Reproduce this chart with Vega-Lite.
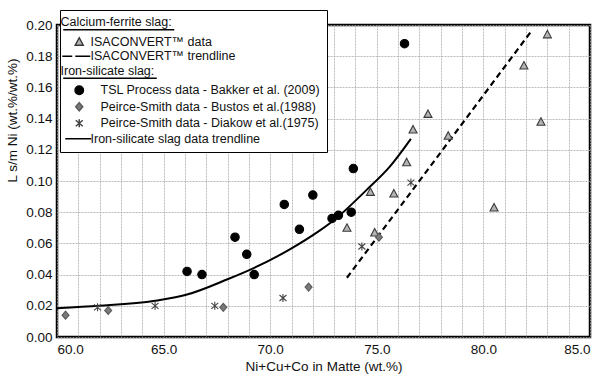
{
  "$schema": "https://vega.github.io/schema/vega-lite/v6.json",
  "width": 533,
  "height": 312,
  "autosize": {"type": "none"},
  "padding": {"left": 57, "top": 25, "right": 10, "bottom": 41},
  "background": "white",
  "config": {
    "font": "Liberation Sans",
    "view": {"stroke": "black", "strokeWidth": 2.5},
    "axis": {
      "domain": false,
      "ticks": false,
      "grid": true,
      "gridColor": "#a8a8a8",
      "gridDash": [2, 1],
      "gridWidth": 0.8,
      "labelFont": "Liberation Sans",
      "labelFontSize": 13.5,
      "labelColor": "#111",
      "titleFont": "Liberation Sans",
      "titleFontSize": 13.5,
      "titleFontWeight": "normal",
      "titleColor": "#111"
    }
  },
  "data": {
    "values": [
      {"series": "ISACONVERT™ data", "x": 73.6, "y": 0.070},
      {"series": "ISACONVERT™ data", "x": 74.7, "y": 0.093},
      {"series": "ISACONVERT™ data", "x": 74.9, "y": 0.067},
      {"series": "ISACONVERT™ data", "x": 75.8, "y": 0.092},
      {"series": "ISACONVERT™ data", "x": 76.4, "y": 0.112},
      {"series": "ISACONVERT™ data", "x": 76.7, "y": 0.133},
      {"series": "ISACONVERT™ data", "x": 77.4, "y": 0.143},
      {"series": "ISACONVERT™ data", "x": 78.35, "y": 0.129},
      {"series": "ISACONVERT™ data", "x": 80.5, "y": 0.083},
      {"series": "ISACONVERT™ data", "x": 81.9, "y": 0.174},
      {"series": "ISACONVERT™ data", "x": 82.7, "y": 0.138},
      {"series": "ISACONVERT™ data", "x": 83.0, "y": 0.194},
      {"series": "TSL Process data - Bakker et al. (2009)", "x": 66.1, "y": 0.042},
      {"series": "TSL Process data - Bakker et al. (2009)", "x": 66.8, "y": 0.040},
      {"series": "TSL Process data - Bakker et al. (2009)", "x": 68.35, "y": 0.064},
      {"series": "TSL Process data - Bakker et al. (2009)", "x": 68.9, "y": 0.053},
      {"series": "TSL Process data - Bakker et al. (2009)", "x": 69.25, "y": 0.040},
      {"series": "TSL Process data - Bakker et al. (2009)", "x": 70.66, "y": 0.085},
      {"series": "TSL Process data - Bakker et al. (2009)", "x": 71.37, "y": 0.069},
      {"series": "TSL Process data - Bakker et al. (2009)", "x": 72.0, "y": 0.091},
      {"series": "TSL Process data - Bakker et al. (2009)", "x": 72.9, "y": 0.076},
      {"series": "TSL Process data - Bakker et al. (2009)", "x": 73.2, "y": 0.078},
      {"series": "TSL Process data - Bakker et al. (2009)", "x": 73.8, "y": 0.080},
      {"series": "TSL Process data - Bakker et al. (2009)", "x": 73.9, "y": 0.108},
      {"series": "TSL Process data - Bakker et al. (2009)", "x": 76.3, "y": 0.188},
      {"series": "Peirce-Smith data - Bustos et al.(1988)", "x": 60.4, "y": 0.014},
      {"series": "Peirce-Smith data - Bustos et al.(1988)", "x": 62.4, "y": 0.017},
      {"series": "Peirce-Smith data - Bustos et al.(1988)", "x": 67.8, "y": 0.019},
      {"series": "Peirce-Smith data - Bustos et al.(1988)", "x": 71.8, "y": 0.032},
      {"series": "Peirce-Smith data - Bustos et al.(1988)", "x": 75.1, "y": 0.064},
      {"series": "Peirce-Smith data - Diakow et al.(1975)", "x": 61.9, "y": 0.019},
      {"series": "Peirce-Smith data - Diakow et al.(1975)", "x": 64.6, "y": 0.020},
      {"series": "Peirce-Smith data - Diakow et al.(1975)", "x": 67.4, "y": 0.020},
      {"series": "Peirce-Smith data - Diakow et al.(1975)", "x": 70.6, "y": 0.025},
      {"series": "Peirce-Smith data - Diakow et al.(1975)", "x": 74.3, "y": 0.058},
      {"series": "Peirce-Smith data - Diakow et al.(1975)", "x": 76.6, "y": 0.099},
      {"series": "ISACONVERT™ trendline", "x": 73.6, "y": 0.038},
      {"series": "ISACONVERT™ trendline", "x": 82.3, "y": 0.197},
      {"series": "Iron-silicate slag data trendline", "x": 60.0, "y": 0.0185},
      {"series": "Iron-silicate slag data trendline", "x": 62.0, "y": 0.0200},
      {"series": "Iron-silicate slag data trendline", "x": 64.6, "y": 0.0232},
      {"series": "Iron-silicate slag data trendline", "x": 66.1, "y": 0.0272},
      {"series": "Iron-silicate slag data trendline", "x": 68.0, "y": 0.0370},
      {"series": "Iron-silicate slag data trendline", "x": 69.2, "y": 0.0440},
      {"series": "Iron-silicate slag data trendline", "x": 70.9, "y": 0.0560},
      {"series": "Iron-silicate slag data trendline", "x": 72.3, "y": 0.0680},
      {"series": "Iron-silicate slag data trendline", "x": 73.0, "y": 0.0750},
      {"series": "Iron-silicate slag data trendline", "x": 74.5, "y": 0.0940},
      {"series": "Iron-silicate slag data trendline", "x": 75.6, "y": 0.1090},
      {"series": "Iron-silicate slag data trendline", "x": 76.6, "y": 0.1270}
    ]
  },
  "encoding": {
    "x": {
      "field": "x", "type": "quantitative",
      "scale": {"domain": [60, 85], "nice": false, "zero": false},
      "axis": {
        "title": "Ni+Cu+Co in Matte (wt.%)",
        "values": [60,61,62,63,64,65,66,67,68,69,70,71,72,73,74,75,76,77,78,79,80,81,82,83,84,85],
        "labelExpr": "datum.value % 5 == 0 ? format(datum.value, '.1f') : ''",
        "labelFlush": true,
        "labelPadding": 5,
        "titlePadding": 4
      }
    },
    "y": {
      "field": "y", "type": "quantitative",
      "scale": {"domain": [0, 0.2], "nice": false},
      "axis": {
        "title": "L s/m Ni (wt.%/wt.%)",
        "values": [0, 0.02, 0.04, 0.06, 0.08, 0.1, 0.12, 0.14, 0.16, 0.18, 0.2],
        "format": ".2f",
        "labelPadding": 5,
        "titlePadding": 6,
        "titleY": 95
      }
    }
  },
  "layer": [
    {
      "transform": [{"filter": "datum.series == 'ISACONVERT™ trendline'"}],
      "mark": {"type": "line", "stroke": "black", "strokeWidth": 2.2, "strokeDash": [6, 4]},
      "encoding": {}
    },
    {
      "transform": [{"filter": "datum.series == 'Iron-silicate slag data trendline'"}],
      "mark": {"type": "line", "stroke": "black", "strokeWidth": 2, "interpolate": "monotone"},
      "encoding": {}
    },
    {
      "transform": [{"filter": "indexof(datum.series, 'trendline') < 0"}],
      "mark": {"type": "point", "size": 100, "strokeWidth": 1.1, "opacity": 1},
      "encoding": {
        "shape": {
          "field": "series", "type": "nominal",
          "scale": {
            "domain": ["Calcium-ferrite slag:", "ISACONVERT™ data", "ISACONVERT™ trendline", "Iron-silicate slag:", "TSL Process data - Bakker et al. (2009)", "Peirce-Smith data - Bustos et al.(1988)", "Peirce-Smith data - Diakow et al.(1975)", "Iron-silicate slag data trendline"],
            "range": ["M-3.2,1.5H19.0", "M0,-0.8L0.8,0.7H-0.8Z", "M-3.4,0H-1.4M-0.8,0H2.2", "M-3.2,1.5H15.5", "M0.84,0C0.84,0.464 0.464,0.84 0,0.84C-0.464,0.84 -0.84,0.464 -0.84,0C-0.84,-0.464 -0.464,-0.84 0,-0.84C0.464,-0.84 0.84,-0.464 0.84,0Z", "M0,-0.8L0.7,0L0,0.8L-0.7,0Z", "M0,-0.8V0.8M-0.7,-0.6L0.7,0.6M-0.7,0.6L0.7,-0.6", "M-2.8,0H2.4"]
          },
          "legend": {
            "title": null,
            "orient": "none",
            "legendX": 3,
            "legendY": -15,
            "direction": "vertical",
            "fillColor": "white",
            "strokeColor": "black",
            "padding": 6,
            "labelFont": "Liberation Sans",
            "labelFontSize": 12.5,
            "labelColor": "#111",
            "labelLimit": 400,
            "labelExpr": "indexof(datum.label, 'slag:') >= 0 ? datum.label : (indexof(datum.label, 'ISACONVERT') >= 0 || indexof(datum.label, 'Iron-silicate') >= 0 ? '\u2800\u2800\u2800' + datum.label : '\u2800\u2800\u2800\u2800' + datum.label)",
            "symbolSize": 100,
            "symbolOffset": 7,
            "symbolStrokeWidth": 1.5,
            "labelOffset": -25,
            "rowPadding": 1.5
          }
        },
        "fill": {
          "field": "series", "type": "nominal",
          "scale": {
            "domain": ["Calcium-ferrite slag:", "ISACONVERT™ data", "ISACONVERT™ trendline", "Iron-silicate slag:", "TSL Process data - Bakker et al. (2009)", "Peirce-Smith data - Bustos et al.(1988)", "Peirce-Smith data - Diakow et al.(1975)", "Iron-silicate slag data trendline"],
            "range": ["transparent", "#b4b4b4", "transparent", "transparent", "black", "#7a7a7a", "transparent", "transparent"]
          },
          "legend": null
        },
        "stroke": {
          "field": "series", "type": "nominal",
          "scale": {
            "domain": ["Calcium-ferrite slag:", "ISACONVERT™ data", "ISACONVERT™ trendline", "Iron-silicate slag:", "TSL Process data - Bakker et al. (2009)", "Peirce-Smith data - Bustos et al.(1988)", "Peirce-Smith data - Diakow et al.(1975)", "Iron-silicate slag data trendline"],
            "range": ["black", "#3a3a3a", "black", "black", "black", "#5a5a5a", "#444444", "black"]
          },
          "legend": null
        }
      }
    }
  ]
}
